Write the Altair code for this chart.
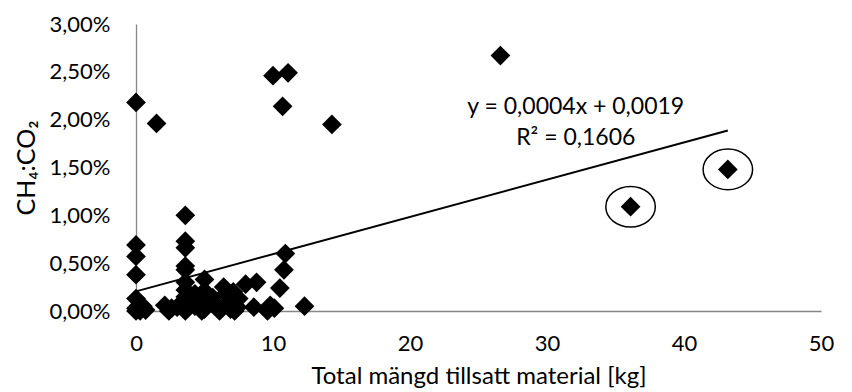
import altair as alt
import pandas as pd

# Total material added [kg]
mass = [0, 0, 0, 0, 0, 0, 0, 0.7, 0.5,
        1.5,
        2.1, 2.6, 3.0,
        3.6, 3.6, 3.6, 3.6, 3.6, 3.6, 3.6, 3.6, 3.6, 3.6,
        4.3, 4.3,
        5.0, 5.0, 5.0, 5.0,
        5.6, 5.8,
        6.4, 6.6, 6.6, 6.9,
        7.1, 7.5, 7.4,
        8.0, 8.6, 8.8,
        9.8, 10.1,
        10.0, 11.1, 10.7, 14.3, 26.6,
        10.5, 10.8, 10.9,
        12.3,
        0.3, 2.4, 3.6, 4.8, 6.1, 7.2, 9.6,
        36.1, 43.2]
# CH4:CO2 ratio (fraction)
ratio = [0.0218, 0.0069, 0.0057, 0.0038, 0.0013, 0.0003, 0.0, 0.0001, 0.0005,
         0.0196,
         0.0006, 0.0003, 0.0004,
         0.0100, 0.0073, 0.0066, 0.0047, 0.0043, 0.0030, 0.0022, 0.0015, 0.0008, 0.0002,
         0.0018, 0.0005,
         0.0033, 0.0021, 0.0010, 0.0002,
         0.0014, 0.0005,
         0.0025, 0.0019, 0.0008, 0.0002,
         0.0020, 0.0013, 0.0004,
         0.0028, 0.0004, 0.0030,
         0.0006, 0.0003,
         0.0246, 0.0249, 0.0214, 0.0195, 0.0267,
         0.0024, 0.0043, 0.0060,
         0.0005,
         0.0, 0.0, 0.0, 0.0, 0.0, 0.0, 0.0,
         0.0109, 0.0148]
circled = [False] * (len(mass) - 2) + [True, True]

eq_lines = ["y = 0,0004x + 0,0019", "R² = 0,1606"]
eq_x = [32.1, 32.1]
eq_y = [0.0213, 0.0181]

x_ticks = [0, 10, 20, 30, 40, 50]
y_ticks = [0, 0.005, 0.01, 0.015, 0.02, 0.025, 0.03]

FONT = "Lato"
AXIS_GRAY = "#868686"

df = pd.DataFrame({"x": mass, "y": ratio, "circled": circled})
eq_df = pd.DataFrame({"text": eq_lines, "x": eq_x, "y": eq_y})

xscale = alt.Scale(domain=[0, 50], nice=False, zero=True)
yscale = alt.Scale(domain=[0, 0.03], nice=False)

xaxis = alt.Axis(values=x_ticks, grid=False, ticks=False, tickSize=0,
                 labelFlush=False,
                 domainColor=AXIS_GRAY, domainWidth=1.3,
                 labelFont=FONT, labelFontSize=22, labelColor="black",
                 labelPadding=22,
                 title="Total mängd tillsatt material [kg]",
                 titleFont=FONT, titleFontSize=24, titleFontWeight="normal",
                 titleColor="black", titlePadding=10)
yaxis = alt.Axis(values=y_ticks, grid=False, ticks=False, tickSize=0,
                 labelFlush=False,
                 domainColor=AXIS_GRAY, domainWidth=1.3,
                 labelFont=FONT, labelFontSize=22, labelColor="black",
                 labelPadding=26,
                 labelExpr="replace(format(datum.value, '.2%'), '.', ',')",
                 title="CH₄:CO₂",
                 titleFont=FONT, titleFontSize=25, titleFontWeight="normal",
                 titleColor="black", titlePadding=10)

base = alt.Chart(df)

points = base.mark_point(shape="diamond", filled=True, color="black",
                         size=390, opacity=1).encode(
    x=alt.X("x:Q", scale=xscale, axis=xaxis),
    y=alt.Y("y:Q", scale=yscale, axis=yaxis),
)

trend = base.transform_regression("x", "y").mark_line(
    color="black", strokeWidth=2).encode(
    x=alt.X("x:Q", scale=xscale),
    y=alt.Y("y:Q", scale=yscale),
)

ellipse_path = "M -1 0 A 1 0.82 0 1 0 1 0 A 1 0.82 0 1 0 -1 0 Z"
rings = base.transform_filter("datum.circled").mark_point(
    shape=ellipse_path, filled=False, stroke="black", strokeWidth=1.5,
    size=2450, opacity=1).encode(
    x=alt.X("x:Q", scale=xscale),
    y=alt.Y("y:Q", scale=yscale),
)

eq = alt.Chart(eq_df).mark_text(font=FONT, fontSize=23, color="black",
                                align="center", baseline="middle").encode(
    x=alt.X("x:Q", scale=xscale),
    y=alt.Y("y:Q", scale=yscale),
    text="text:N",
)

chart = alt.layer(trend, points, rings, eq).properties(
    width=685, height=287,
    autosize=alt.AutoSizeParams(type="none"),
    padding={"left": 136, "top": 24, "right": 31, "bottom": 81},
    background="white",
).configure_view(stroke=None)

chart.save("out.html", embed_options={"renderer": "svg", "actions": False})
